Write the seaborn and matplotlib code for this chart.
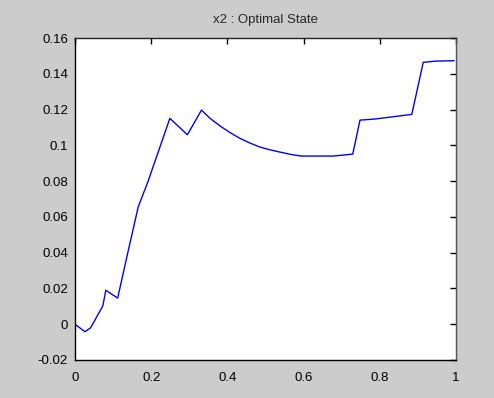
import matplotlib
matplotlib.use("Agg")
import matplotlib.pyplot as plt
import seaborn as sns
import pandas as pd
from matplotlib.ticker import FuncFormatter

t = [0.0, 0.026, 0.041, 0.073, 0.081, 0.112, 0.142, 0.166, 0.192, 0.249, 0.295, 0.332,
     0.355, 0.381, 0.407, 0.433, 0.46, 0.486, 0.51, 0.534, 0.569, 0.595, 0.678, 0.729,
     0.748, 0.787, 0.884, 0.914, 0.948, 0.995]
x2 = [0.0, -0.0042, -0.002, 0.0102, 0.019, 0.0146, 0.0432, 0.0656, 0.080, 0.1151, 0.1059,
      0.1197, 0.1150, 0.1108, 0.1071, 0.1039, 0.1012, 0.0990, 0.0976, 0.0964, 0.0948,
      0.0940, 0.0940, 0.0951, 0.1141, 0.1147, 0.1173, 0.1464, 0.1471, 0.1473]
title = "x2 : Optimal State"
xticks = [0, 0.2, 0.4, 0.6, 0.8, 1]
yticks = [-0.02, 0, 0.02, 0.04, 0.06, 0.08, 0.1, 0.12, 0.14, 0.16]

sns.set_style("white")
plt.rcParams['font.family'] = ['Liberation Sans']

df = pd.DataFrame({"t": t, "x2": x2})
fig = plt.figure(figsize=(4.94, 3.98), dpi=100, facecolor="#cccccc")
ax = fig.add_axes([0.1518, 0.0955, 0.7713, 0.809])
sns.lineplot(data=df, x="t", y="x2", sort=False, color="#0000ff", linewidth=1.0, ax=ax)
ax.set_xlim(0, 1)
ax.set_ylim(-0.02, 0.16)
ax.set_xticks(xticks)
ax.set_yticks(yticks)
fmt = FuncFormatter(lambda v, p: f"{v:g}")
ax.xaxis.set_major_formatter(fmt)
ax.yaxis.set_major_formatter(fmt)
ax.tick_params(direction="in", length=4, width=1, top=True, right=True,
               labelsize=9.5, colors="black")
ax.tick_params(axis="x", pad=9)
ax.tick_params(axis="y", pad=5)
for s in ax.spines.values():
    s.set_visible(True)
    s.set_color("black")
    s.set_linewidth(1.0)
ax.spines["right"].set_color("#555555")
ax.spines["top"].set_color("#222222")
ax.set_xlabel("")
ax.set_ylabel("")
ax.set_title(title, fontsize=9.5, pad=11)
fig.savefig("out.png", dpi=100, facecolor=fig.get_facecolor())
